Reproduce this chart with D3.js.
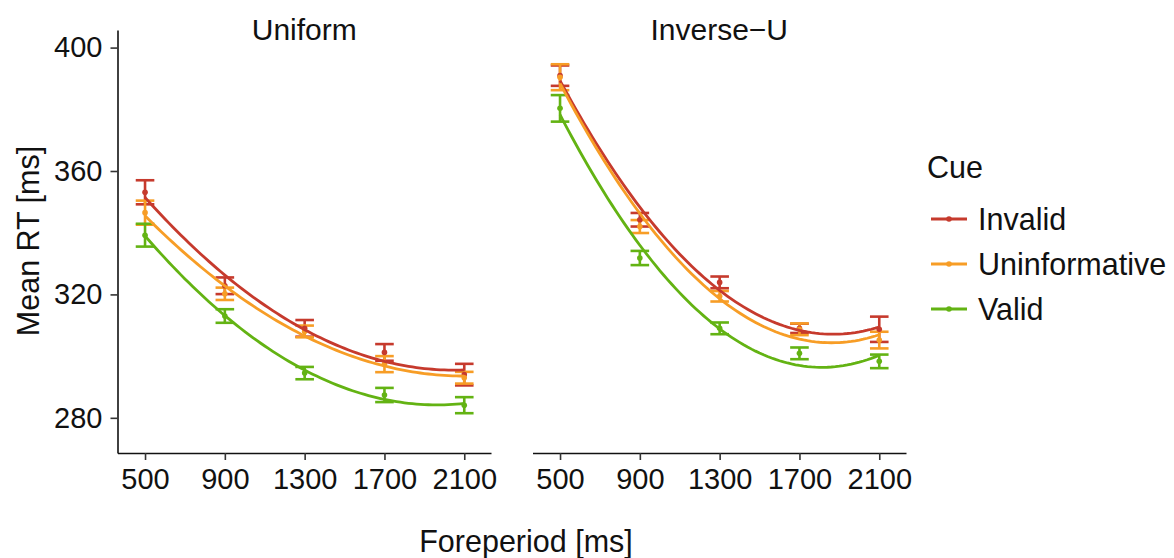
<!DOCTYPE html>
<html>
<head>
<meta charset="utf-8">
<script src="https://cdn.jsdelivr.net/npm/d3@7"></script>
<style>
  body { margin: 0; background: #fff; }
  svg text { font-family: "Liberation Sans", Arial, sans-serif; fill: #111; }
</style>
</head>
<body>
<div id="chart"></div>
<script>
// foreperiod levels and facet panels
const foreperiods = [500, 900, 1300, 1700, 2100];
const panels = ["Uniform", "Inverse\u2212U"];
const cues = ["Invalid", "Uninformative", "Valid"];
const cueColors = ["#c63a2d", "#f79d26", "#63b313"];

// mean RT per cue
const uniformInvalid       = [353.1, 322.8, 309.0, 301.2, 294.0];
const uniformUninformative = [346.5, 320.2, 308.0, 297.4, 293.0];
const uniformValid         = [339.2, 313.0, 294.5, 287.4, 284.1];
const inverseInvalid       = [390.9, 344.2, 323.9, 309.0, 308.7];
const inverseUninformative = [390.4, 342.0, 319.4, 308.7, 305.2];
const inverseValid         = [380.3, 331.8, 309.0, 300.9, 298.3];

// standard errors (half error bar)
const uniformInvalidSE       = [3.9, 2.7, 2.7, 2.7, 3.5];
const uniformUninformativeSE = [3.9, 2.0, 1.9, 2.6, 1.9];
const uniformValidSE         = [3.7, 2.2, 2.0, 2.3, 2.6];
const inverseInvalidSE       = [3.3, 2.2, 1.9, 1.5, 4.1];
const inverseUninformativeSE = [4.2, 2.1, 1.7, 1.9, 2.7];
const inverseValidSE         = [4.3, 2.3, 1.9, 1.9, 2.2];

const yTicks = [280, 320, 360, 400];

const means = [
	[uniformInvalid, uniformUninformative, uniformValid],
	[inverseInvalid, inverseUninformative, inverseValid]
];
const ses = [
	[uniformInvalidSE, uniformUninformativeSE, uniformValidSE],
	[inverseInvalidSE, inverseUninformativeSE, inverseValidSE]
];

// least squares fit of y ~ x + x^2 (what geom_smooth drew)
function quadFit(xs, ys){
	const n = xs.length;
	let s = [0,0,0,0,0], t = [0,0,0];
	for (let i = 0; i < n; i++) {
		const x = xs[i], y = ys[i];
		for (let k = 0; k < 5; k++) s[k] += Math.pow(x, k);
		for (let k = 0; k < 3; k++) t[k] += y * Math.pow(x, k);
	}
	const A = [[s[0],s[1],s[2],t[0]],[s[1],s[2],s[3],t[1]],[s[2],s[3],s[4],t[2]]];
	for (let i = 0; i < 3; i++) {
		for (let j = i + 1; j < 3; j++) {
			const f = A[j][i] / A[i][i];
			for (let k = i; k < 4; k++) A[j][k] -= f * A[i][k];
		}
	}
	const c = [0,0,0];
	for (let i = 2; i >= 0; i--) {
		let v = A[i][3];
		for (let k = i + 1; k < 3; k++) v -= A[i][k] * c[k];
		c[i] = v / A[i][i];
	}
	return x => c[0] + c[1] * x + c[2] * x * x;
}

const width = 1174,
	height = 558,
	panelTop = 30,
	panelBottom = 453,
	panelWidth = 373.5,
	panelLefts = [117.5, 532.5],
	capHalf = 9.3;

const svg = d3.select("#chart")
	.append("svg")
	.attr("width", width)
	.attr("height", height);

const x = d3.scaleLinear()
	.domain([362, 2234])
	.range([0, panelWidth]);

const y = d3.scaleLinear()
	.domain([268.6, 405.7])
	.range([panelBottom, panelTop]);

const line = d3.line()
	.x(d => x(d[0]))
	.y(d => y(d[1]));

panels.forEach((name, p) => {
	const g = svg.append("g")
		.attr("transform", `translate(${panelLefts[p]},0)`);

	// strip label
	g.append("text")
		.attr("x", panelWidth / 2)
		.attr("y", 40)
		.attr("text-anchor", "middle")
		.style("font-size", "30px")
		.text(name);

	// x axis
	const xAxis = g.append("g")
		.attr("transform", `translate(0,${panelBottom})`)
		.call(d3.axisBottom(x).tickValues(foreperiods).tickFormat(d3.format("d"))
			.tickSize(7).tickPadding(8).tickSizeOuter(0));
	xAxis.select(".domain").attr("stroke", "#111").attr("stroke-width", 1.6);
	xAxis.selectAll(".tick line").attr("stroke", "#333").attr("stroke-width", 1.6);
	xAxis.selectAll(".tick text").style("font-size", "29px").attr("fill", "#111");

	if (p === 0) {
		const yAxis = g.append("g")
			.call(d3.axisLeft(y).tickValues(yTicks).tickSize(7).tickPadding(8).tickSizeOuter(0));
		yAxis.select(".domain").attr("stroke", "#111").attr("stroke-width", 1.6);
		yAxis.selectAll(".tick line").attr("stroke", "#333").attr("stroke-width", 1.6);
		yAxis.selectAll(".tick text").style("font-size", "29px").attr("fill", "#111");
	}

	const series = cues.map((c, i) => ({
		cue: c,
		color: cueColors[i],
		pts: foreperiods.map((fp, j) => ({fp: fp, m: means[p][i][j], se: ses[p][i][j]}))
	}));

	// error bars
	series.forEach(s => {
		const eb = g.append("g")
			.attr("stroke", s.color)
			.attr("stroke-width", 2.6)
			.attr("fill", "none");
		eb.selectAll("line.v")
			.data(s.pts)
			.enter().append("line")
			.attr("x1", d => x(d.fp)).attr("x2", d => x(d.fp))
			.attr("y1", d => y(d.m - d.se)).attr("y2", d => y(d.m + d.se));
		eb.selectAll("line.top")
			.data(s.pts)
			.enter().append("line")
			.attr("x1", d => x(d.fp) - capHalf).attr("x2", d => x(d.fp) + capHalf)
			.attr("y1", d => y(d.m + d.se)).attr("y2", d => y(d.m + d.se));
		eb.selectAll("line.bot")
			.data(s.pts)
			.enter().append("line")
			.attr("x1", d => x(d.fp) - capHalf).attr("x2", d => x(d.fp) + capHalf)
			.attr("y1", d => y(d.m - d.se)).attr("y2", d => y(d.m - d.se));
	});

	// points
	series.forEach(s => {
		g.selectAll(null)
			.data(s.pts)
			.enter().append("circle")
			.attr("cx", d => x(d.fp))
			.attr("cy", d => y(d.m))
			.attr("r", 2.8)
			.attr("fill", s.color);
	});

	// quadratic smooth
	series.forEach(s => {
		const f = quadFit(s.pts.map(d => d.fp), s.pts.map(d => d.m));
		const xs = d3.range(500, 2100 + 1, 20);
		g.append("path")
			.datum(xs.map(v => [v, f(v)]))
			.attr("d", line)
			.attr("fill", "none")
			.attr("stroke", s.color)
			.attr("stroke-width", 2.8);
	});
});

// axis titles
svg.append("text")
	.attr("x", 526)
	.attr("y", 552)
	.attr("text-anchor", "middle")
	.style("font-size", "30.5px")
	.text("Foreperiod [ms]");

svg.append("text")
	.attr("transform", "translate(39,241) rotate(-90)")
	.attr("text-anchor", "middle")
	.style("font-size", "30.5px")
	.text("Mean RT [ms]");

// legend
const legend = svg.append("g")
	.attr("transform", "translate(927,0)");

legend.append("text")
	.attr("x", 0)
	.attr("y", 178)
	.style("font-size", "30.5px")
	.text("Cue");

cues.forEach((c, i) => {
	const yy = 219 + i * 45;
	legend.append("line")
		.attr("x1", 4).attr("x2", 40)
		.attr("y1", yy).attr("y2", yy)
		.attr("stroke", cueColors[i])
		.attr("stroke-width", 2.8);
	legend.append("circle")
		.attr("cx", 22).attr("cy", yy)
		.attr("r", 2.8)
		.attr("fill", cueColors[i]);
	legend.append("text")
		.attr("x", 51)
		.attr("y", yy + 11)
		.style("font-size", "30.5px")
		.text(c);
});
</script>
</body>
</html>
